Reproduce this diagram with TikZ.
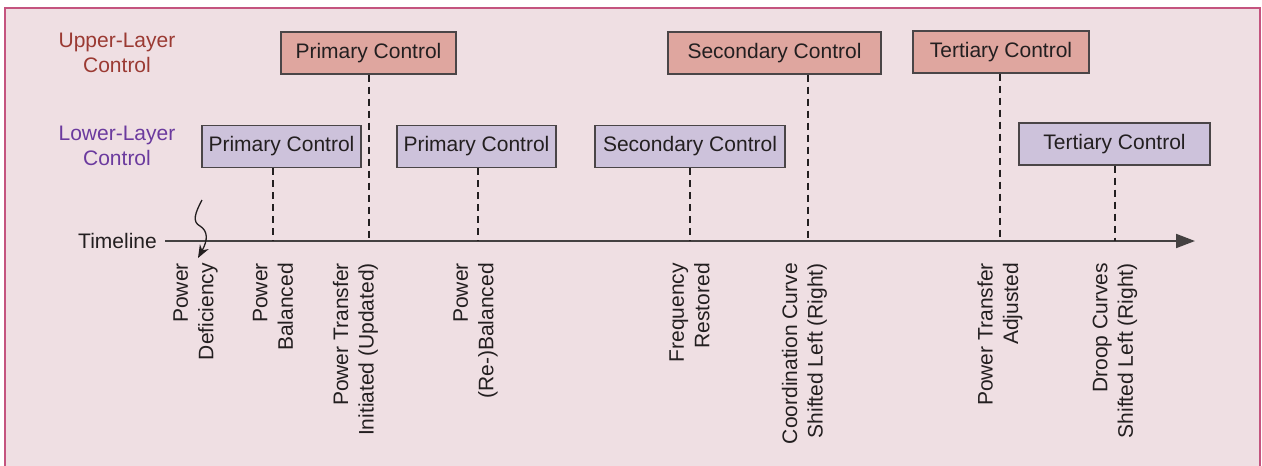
\documentclass[tikz,border=0pt]{standalone}
\usepackage{fontspec}
\setmainfont{Liberation Sans}
\usetikzlibrary{arrows.meta}

\definecolor{panelfill}{HTML}{EFDFE3}
\definecolor{panelrule}{HTML}{C4547F}
\definecolor{upperfill}{HTML}{DFA69F}
\definecolor{lowerfill}{HTML}{CDC2DB}
\definecolor{boxrule}{HTML}{4A4547}
\definecolor{inktext}{HTML}{231F20}
\definecolor{uppertext}{HTML}{9B3A33}
\definecolor{lowertext}{HTML}{6B3A9E}

\tikzset{
  basefont/.style={font=\fontsize{21}{25.5}\selectfont},
  ctrlbox/.style={basefont, draw=boxrule, line width=1.3pt, text=inktext,
    minimum height=42pt, inner sep=0pt},
  upperbox/.style={ctrlbox, fill=upperfill},
  lowerbox/.style={ctrlbox, fill=lowerfill},
  layerlabel/.style={basefont, align=center},
  eventlabel/.style={basefont, text=inktext, rotate=90, anchor=east,
    align=right, inner sep=0pt},
  guide/.style={draw=inktext, line width=1.3pt, dash pattern=on 7pt off 5pt},
  timeaxis/.style={draw=inktext!85, line width=2pt,
    -{Triangle[length=19pt,width=14pt]}},
}

\begin{document}
\begin{tikzpicture}[x=1pt, y=-1pt]
\useasboundingbox (0,0) rectangle (1262,466);

% panel background with its open-bottom frame
\fill[panelfill] (5,8) rectangle (1260,466);
\draw[panelrule, line width=2.5pt] (5,466) -- (5,8) -- (1260,8) -- (1260,466);

% layer captions
\node[layerlabel, text=uppertext] (upcap) at (117,53) {Upper-Layer\\Control};
\node[layerlabel, text=lowertext] (lowcap) at (117,146) {Lower-Layer\\Control};

% upper-layer control boxes
\node[upperbox, minimum width=175pt] (up1) at (368.5,53) {Primary Control};
\node[upperbox, minimum width=213pt] (up2) at (774.5,53) {Secondary Control};
\node[upperbox, minimum width=176pt] (up3) at (1001,52) {Tertiary Control};

% lower-layer control boxes
\node[lowerbox, minimum width=159pt] (lo1) at (281.5,146.5) {Primary Control};
\node[lowerbox, minimum width=159pt] (lo2) at (476.5,146.5) {Primary Control};
\node[lowerbox, minimum width=190pt] (lo3) at (690,146.5) {Secondary Control};
\node[lowerbox, minimum width=191pt] (lo4) at (1114.5,144) {Tertiary Control};

% timeline
\node[basefont, text=inktext, anchor=east, inner sep=0pt] (tl) at (157,240.5) {Timeline};
\coordinate (tstart) at (165,241);
\coordinate (tend) at (1195,241);
\draw[timeaxis] (tstart) -- (tend);

% event ticks on the timeline
\coordinate (t1) at (273,241);
\coordinate (t2) at (369,241);
\coordinate (t3) at (478,241);
\coordinate (t4) at (690,241);
\coordinate (t5) at (808,241);
\coordinate (t6) at (1000,241);
\coordinate (t7) at (1115,241);

\draw[guide] (lo1.south -| t1) -- (t1);
\draw[guide] (up1.south -| t2) -- (t2);
\draw[guide] (lo2.south -| t3) -- (t3);
\draw[guide] (lo3.south -| t4) -- (t4);
\draw[guide] (up2.south -| t5) -- (t5);
\draw[guide] (up3.south -| t6) -- (t6);
\draw[guide] (lo4.south -| t7) -- (t7);

% disturbance marker
\coordinate (dstart) at (202,200);
\coordinate (dend) at (198,258);
\draw[draw=inktext, line width=1.3pt, -{Stealth[length=13pt,width=10pt]}]
  (dstart) .. controls (195,213) and (192,222) .. (200,226)
           .. controls (208,231) and (208,240) .. (dend);

% event descriptions
\node[eventlabel] (e0) at (195.5,263) {Power\\Deficiency};
\node[eventlabel] (e1) at (273,263) {Power\\Balanced};
\node[eventlabel] (e2) at (355.5,263) {Power Transfer\\Initiated (Updated)};
\node[eventlabel] (e3) at (475.5,263) {Power\\(Re-)Balanced};
\node[eventlabel] (e4) at (689.5,263) {Frequency\\Restored};
\node[eventlabel] (e5) at (804.5,263) {Coordination Curve\\Shifted Left (Right)};
\node[eventlabel] (e6) at (1000,263) {Power Transfer\\Adjusted};
\node[eventlabel] (e7) at (1115,263) {Droop Curves\\Shifted Left (Right)};
\end{tikzpicture}
\end{document}
